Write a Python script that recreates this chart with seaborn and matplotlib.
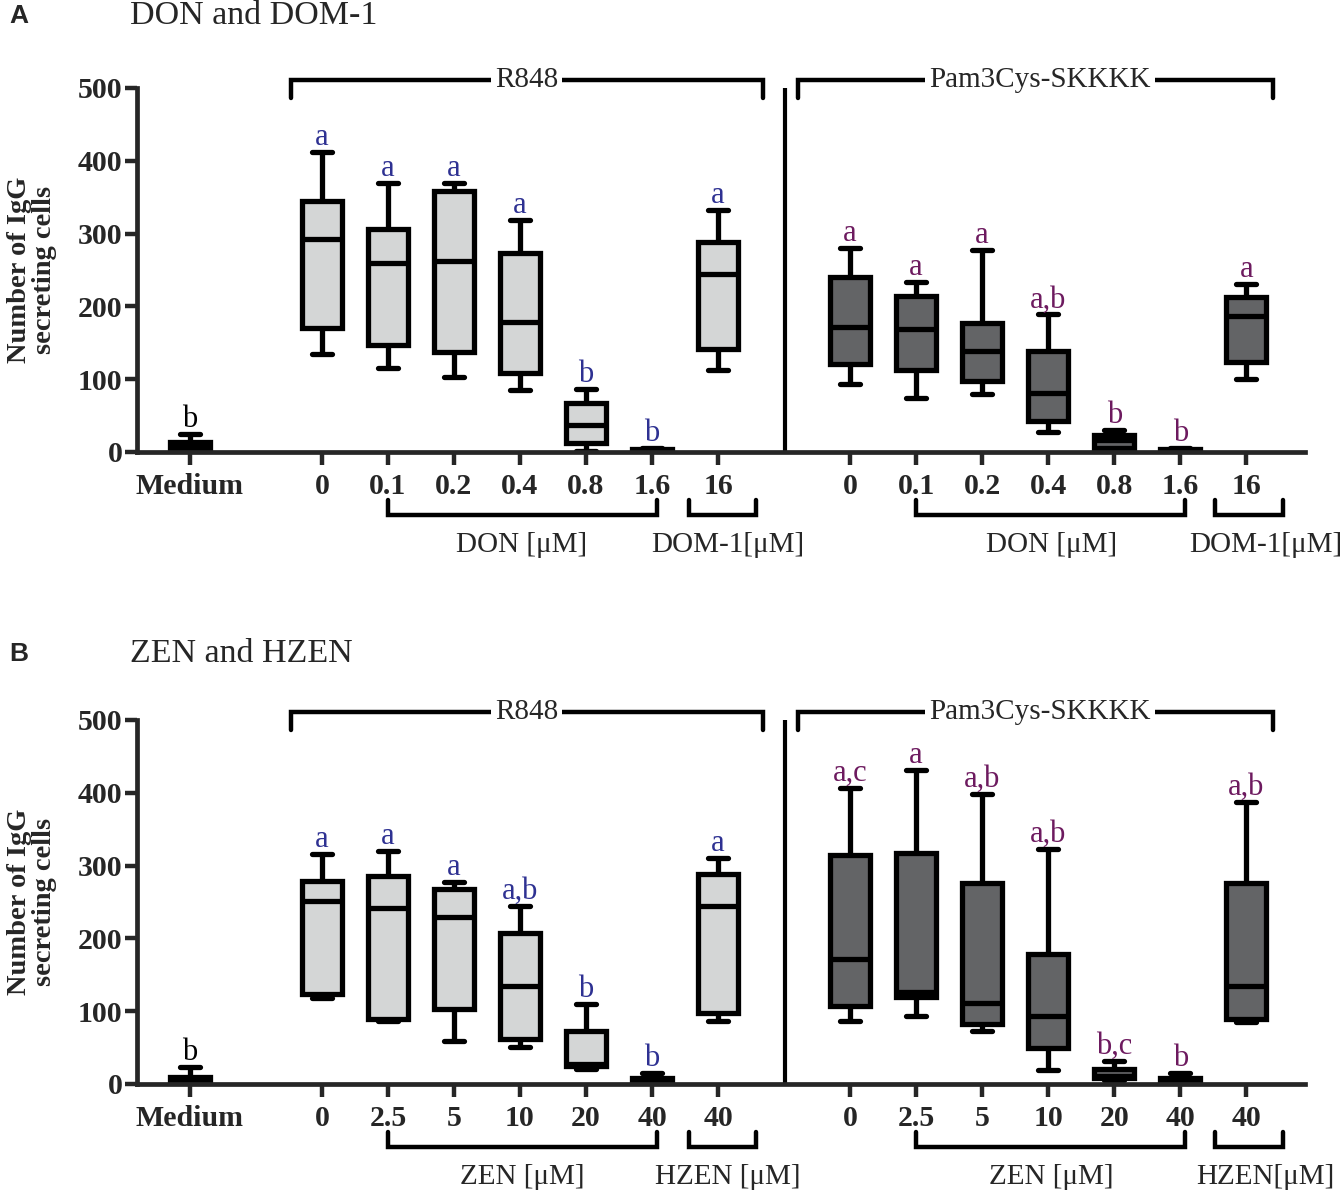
import numpy as np
import pandas as pd
import matplotlib
matplotlib.use("Agg")
import matplotlib.pyplot as plt
import seaborn as sns

sns.set_style("ticks")
plt.rcParams["font.family"] = ["Liberation Serif", "DejaVu Serif"]

# ---------------- data (five-number summaries: min, q1, median, q3, max) ----------------
A_medium = [0, 2, 7, 14, 25]
A_r848_min = [135, 116, 103, 85, 2, 0, 113]
A_r848_q1 = [170, 147, 138, 109, 12, 1, 141]
A_r848_med = [293, 260, 262, 178, 37, 2, 244]
A_r848_q3 = [345, 306, 358, 274, 67, 4, 289]
A_r848_max = [412, 369, 369, 319, 87, 5, 333]
A_pam_min = [94, 74, 80, 27, 1, 0, 100]
A_pam_q1 = [121, 112, 97, 42, 5, 1, 124]
A_pam_med = [172, 169, 139, 81, 17, 2, 187]
A_pam_q3 = [241, 214, 177, 139, 24, 4, 213]
A_pam_max = [280, 233, 277, 189, 30, 5, 231]

B_medium = [0, 2, 7, 10, 24]
B_r848_min = [118, 86, 59, 51, 20, 0, 86]
B_r848_q1 = [123, 89, 103, 62, 25, 1, 98]
B_r848_med = [251, 242, 230, 134, 28, 5, 244]
B_r848_q3 = [279, 286, 268, 207, 73, 8, 288]
B_r848_max = [316, 320, 277, 245, 110, 15, 310]
B_pam_min = [86, 94, 73, 19, 5, 0, 85]
B_pam_q1 = [107, 120, 82, 50, 8, 2, 89]
B_pam_med = [172, 126, 111, 94, 11, 5, 134]
B_pam_q3 = [315, 317, 276, 178, 20, 8, 276]
B_pam_max = [407, 432, 398, 323, 32, 15, 388]

A_letters_medium = "b"
A_letters_r848 = ["a", "a", "a", "a", "b", "b", "a"]
A_letters_pam = ["a", "a", "a", "a,b", "b", "b", "a"]
B_letters_medium = "b"
B_letters_r848 = ["a", "a", "a", "a,b", "b", "b", "a"]
B_letters_pam = ["a,c", "a", "a,b", "a,b", "b,c", "b", "a,b"]

A_ticklabels = ["Medium", "0", "0.1", "0.2", "0.4", "0.8", "1.6", "16",
                "0", "0.1", "0.2", "0.4", "0.8", "1.6", "16"]
B_ticklabels = ["Medium", "0", "2.5", "5", "10", "20", "40", "40",
                "0", "2.5", "5", "10", "20", "40", "40"]

A_title = "DON and DOM-1"
B_title = "ZEN and HZEN"
A_units = ["DON [\u03bcM]", "DOM-1[\u03bcM]", "DON [\u03bcM]", "DOM-1[\u03bcM]"]
B_units = ["ZEN [\u03bcM]", "HZEN [\u03bcM]", "ZEN [\u03bcM]", "HZEN[\u03bcM]"]
stim_labels = ["R848", "Pam3Cys-SKKKK"]

# ---------------- layout ----------------
POS_MED = 0.0
POS_LEFT = [2, 3, 4, 5, 6, 7, 8]
POS_RIGHT = [10, 11, 12, 13, 14, 15, 16]
LIGHT = "#d4d6d6"
DARK = "#636466"
BLUE = "#2e3192"
PURPLE = "#6d1a5f"


def build_df(medium, left, right):
    rows = []
    for v in medium:
        rows.append((POS_MED, v, "light"))
    for i, p in enumerate(POS_LEFT):
        for arr in left:
            rows.append((float(p), arr[i], "light"))
    for i, p in enumerate(POS_RIGHT):
        for arr in right:
            rows.append((float(p), arr[i], "dark"))
    return pd.DataFrame(rows, columns=["pos", "value", "shade"])


def draw_panel(ax, medium, left, right, let_med, let_left, let_right, ticklabels, units):
    df = build_df(medium, left, right)
    sns.boxplot(data=df, x="pos", y="value", hue="shade",
                palette={"light": LIGHT, "dark": DARK}, native_scale=True,
                width=0.6, whis=(0, 100), dodge=False, saturation=1,
                linecolor="black", linewidth=3.8, showfliers=False,
                legend=False, ax=ax)
    ax.set_xlim(-0.80, 16.89)
    ax.set_ylim(0, 500)
    ax.set_xlabel("")
    ax.set_ylabel("")
    ax.set_xticks([POS_MED] + POS_LEFT + POS_RIGHT)
    ax.set_xticklabels(ticklabels, fontweight="bold", fontsize=21.5)
    ax.set_yticks(range(0, 501, 100))
    ax.set_yticklabels([str(v) for v in range(0, 501, 100)], fontweight="bold", fontsize=21.5)
    ax.tick_params(axis="x", direction="out", length=9, width=3.2, pad=6)
    ax.tick_params(axis="y", direction="out", length=9, width=3.2, pad=1.5)
    for s in ["top", "right"]:
        ax.spines[s].set_visible(False)
    for s in ["left", "bottom"]:
        ax.spines[s].set_linewidth(3.4)

    # separator line
    ax.plot([9.02, 9.02], [0, 500], color="black", lw=3.0, clip_on=False, solid_capstyle="butt")

    # significance letters
    ax.annotate(let_med, (POS_MED, medium[4]), xytext=(0, 5), textcoords="offset points",
                ha="center", va="baseline", fontsize=22, color="black")
    maxes_left = left[4]
    maxes_right = right[4]
    for p, m, t in zip(POS_LEFT, maxes_left, let_left):
        ax.annotate(t, (p, m), xytext=(0, 5), textcoords="offset points",
                    ha="center", va="baseline", fontsize=22, color=BLUE)
    for p, m, t in zip(POS_RIGHT, maxes_right, let_right):
        ax.annotate(t, (p, m), xytext=(0, 5), textcoords="offset points",
                    ha="center", va="baseline", fontsize=22, color=PURPLE)

    # top stimulus brackets
    for (x0, x1, xc), lab in zip([(1.53, 8.68, 5.1), (9.21, 16.41, 12.88)], stim_labels):
        ax.plot([x0, x0, x1, x1], [486, 511, 511, 486], color="black", lw=3.2,
                clip_on=False, solid_joinstyle="miter")
        ax.text(xc, 511, lab, ha="center", va="center", fontsize=21,
                bbox=dict(facecolor="white", edgecolor="none", pad=3), clip_on=False)

    # bottom compound brackets
    spans = [(3.0, 7.08, 5.03), (7.56, 8.58, 8.15), (11.0, 15.08, 13.05), (15.52, 16.56, 16.29)]
    for (x0, x1, xc), lab in zip(spans, units):
        ax.plot([x0, x0, x1, x1], [-66, -86.5, -86.5, -66], color="black", lw=3.2,
                clip_on=False, solid_joinstyle="miter")
        ax.text(xc, -128, lab, ha="center", va="center", fontsize=21, clip_on=False)


fig = plt.figure(figsize=(13.4, 11.93), dpi=100)
axA = fig.add_axes([137 / 1340, 1 - 452 / 1193, 1168 / 1340, 364 / 1193])
axB = fig.add_axes([137 / 1340, 1 - 1084 / 1193, 1168 / 1340, 364 / 1193])

draw_panel(axA, A_medium,
           [A_r848_min, A_r848_q1, A_r848_med, A_r848_q3, A_r848_max],
           [A_pam_min, A_pam_q1, A_pam_med, A_pam_q3, A_pam_max],
           A_letters_medium, A_letters_r848, A_letters_pam, A_ticklabels, A_units)
draw_panel(axB, B_medium,
           [B_r848_min, B_r848_q1, B_r848_med, B_r848_q3, B_r848_max],
           [B_pam_min, B_pam_q1, B_pam_med, B_pam_q3, B_pam_max],
           B_letters_medium, B_letters_r848, B_letters_pam, B_ticklabels, B_units)

# y labels
for yc in [270, 902]:
    fig.text(32 / 1340, 1 - yc / 1193, "Number of IgG\nsecreting cells", rotation=90,
             ha="center", va="center", multialignment="center", fontsize=20.5,
             fontweight="bold", linespacing=1.0)

# panel letters and titles
for yc, letter, title in [(16, "A", A_title), (654, "B", B_title)]:
    fig.text(9 / 1340, 1 - yc / 1193, letter, ha="left", va="center", fontsize=19,
             fontweight="bold", family=["Liberation Sans", "DejaVu Sans"])
    fig.text(130 / 1340, 1 - yc / 1193, title, ha="left", va="center", fontsize=24.5)

fig.savefig("out.png", dpi=100)
